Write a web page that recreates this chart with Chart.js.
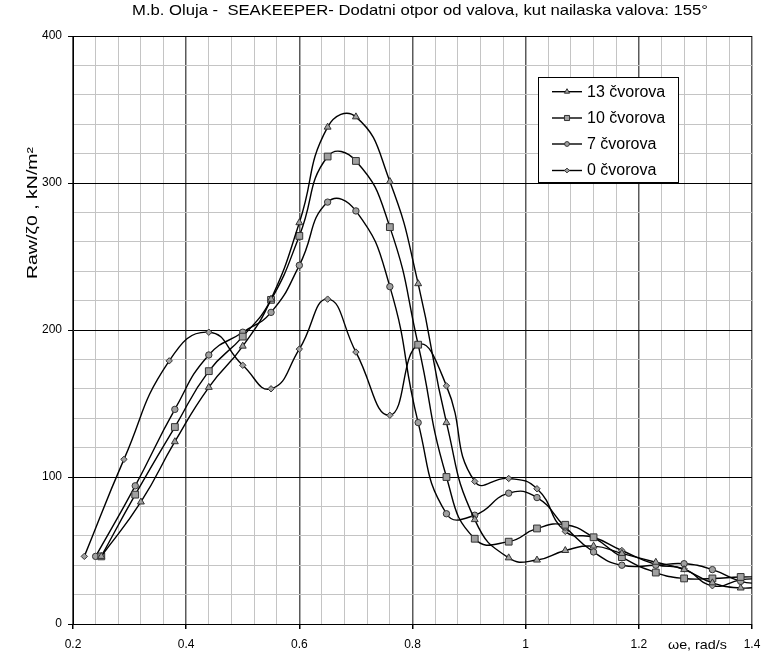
<!DOCTYPE html>
<html>
<head>
<meta charset="utf-8">
<script src="https://cdn.jsdelivr.net/npm/chart.js@4/dist/chart.umd.min.js"></script>
<style>
  html, body { margin: 0; padding: 0; background: #fff; }
  #wrap { width: 764px; height: 657px; }
</style>
</head>
<body>
<div id="wrap"><canvas id="seakeeperChart" width="764" height="657"></canvas></div>
<script>
// omega_e [rad/s] and Raw/zeta0 [kN/m2]
var omega13 = [0.25, 0.32, 0.38, 0.44, 0.50, 0.55, 0.60, 0.65, 0.70, 0.76, 0.81, 0.86, 0.91, 0.97, 1.02, 1.07, 1.12, 1.17, 1.23, 1.28, 1.33, 1.38, 1.42];
var raw13   = [46, 83, 124, 161, 189, 221, 273, 338, 345, 301, 231.5, 137, 71, 45, 43.5, 50, 53, 48, 42, 37, 28, 24.5, 25.5];

var omega10 = [0.25, 0.31, 0.38, 0.44, 0.50, 0.55, 0.60, 0.65, 0.70, 0.76, 0.81, 0.86, 0.91, 0.97, 1.02, 1.07, 1.12, 1.17, 1.23, 1.28, 1.33, 1.38, 1.42];
var raw10   = [46, 88, 134, 172, 195.5, 220.5, 264, 318, 315, 270, 190, 100, 58, 56, 65, 67.5, 59, 45.5, 35, 31, 31, 32, 32];

var omega7 = [0.24, 0.31, 0.38, 0.44, 0.50, 0.55, 0.60, 0.65, 0.70, 0.76, 0.81, 0.86, 0.91, 0.97, 1.02, 1.07, 1.12, 1.17, 1.23, 1.28, 1.33, 1.38, 1.42];
var raw7   = [46, 94, 146, 183, 198.5, 212, 244, 287, 281, 229.5, 137, 75, 74, 89, 86, 66, 49, 40, 40, 41, 37, 29, 27.5];

var omega0 = [0.22, 0.29, 0.37, 0.44, 0.50, 0.55, 0.60, 0.65, 0.70, 0.76, 0.81, 0.86, 0.91, 0.97, 1.02, 1.07, 1.12, 1.17, 1.23, 1.28, 1.33, 1.38, 1.42];
var raw0   = [46, 112, 179, 198.5, 176, 160, 187, 221, 185, 142, 190, 162, 97, 99, 92, 63, 59, 50, 40.5, 37.5, 26, 30, 31];

var seriesNames = ['13 čvorova', '10 čvorova', '7 čvorova', '0 čvorova'];
var xTickLabels = ['0.2', '0.4', '0.6', '0.8', '1', '1.2', '1.4'];
var yTickLabels = ['0', '100', '200', '300', '400'];

var FONT = 'Arial, "Liberation Sans", sans-serif';

function pts(xs, ys) {
    return xs.map(function(x, i) { return {x: x, y: ys[i]}; });
}

function series(label, xs, ys, style, radius) {
    return {
        label: label,
        data: pts(xs, ys),
        borderColor: '#000',
        borderWidth: 1.4,
        tension: 0.5,
        pointStyle: style,
        pointRadius: radius,
        pointBackgroundColor: '#a0a0a0',
        pointBorderColor: '#333',
        pointBorderWidth: 1,
        fill: false
    };
}

var datasets = [
    series(seriesNames[0], omega13, raw13, 'triangle', 4),
    series(seriesNames[1], omega10, raw10, 'rect', 4.8),
    series(seriesNames[2], omega7, raw7, 'circle', 3.2),
    series(seriesNames[3], omega0, raw0, 'rectRot', 3.2)
];

function isMajorX(v) { return Math.abs(v * 5 - Math.round(v * 5)) < 1e-6; }
function isMajorY(v) { return Math.abs(v % 100) < 1e-6; }

// text drawn with a horizontal stretch, like the Excel original
function stretchText(ctx, text, x, y, font, sx, align) {
    ctx.save();
    ctx.translate(x, y);
    ctx.scale(sx, 1);
    ctx.font = font;
    ctx.textAlign = align;
    ctx.textBaseline = 'middle';
    ctx.fillText(text, 0, 0);
    ctx.restore();
}

var textPlugin = {
    id: 'texts',
    afterDraw: function(chart) {
        var ctx = chart.ctx;
        ctx.save();
        ctx.fillStyle = '#000';
        // title
        stretchText(ctx, 'M.b. Oluja -  SEAKEEPER- Dodatni otpor od valova, kut nailaska valova: 155°', 420, 11, '15px ' + FONT, 1.11, 'center');
        // x axis title
        stretchText(ctx, 'ωe, rad/s', 668, 645, '13px ' + FONT, 1.1, 'left');
        // y axis title
        ctx.save();
        ctx.translate(33, 213);
        ctx.rotate(-Math.PI / 2);
        stretchText(ctx, 'Raw/ζ0 , kN/m²', 0, 0, '15px ' + FONT, 1.3, 'center');
        ctx.restore();

        // legend
        var lx = 538, ly = 77, lw = 140, lh = 105;
        ctx.fillStyle = '#fff';
        ctx.fillRect(lx, ly, lw, lh);
        ctx.strokeStyle = '#000';
        ctx.lineWidth = 1;
        ctx.strokeRect(lx + 0.5, ly + 0.5, lw, lh);
        var rowY = [91.7, 118, 144, 170.5];
        chart.data.datasets.forEach(function(ds, i) {
            var y = rowY[i];
            ctx.strokeStyle = '#000';
            ctx.lineWidth = 1.4;
            ctx.beginPath();
            ctx.moveTo(552, y);
            ctx.lineTo(582, y);
            ctx.stroke();
            ctx.fillStyle = ds.pointBackgroundColor;
            ctx.strokeStyle = ds.pointBorderColor;
            ctx.lineWidth = 1;
            Chart.helpers.drawPoint(ctx, {pointStyle: ds.pointStyle, radius: ds.pointRadius * 0.75, rotation: 0, borderWidth: 1}, 567, y);
            ctx.fillStyle = '#000';
            stretchText(ctx, ds.label, 587, y + 0.5, '16px ' + FONT, 1.0, 'left');
        });
        ctx.restore();
    }
};

var ctx = document.getElementById('seakeeperChart').getContext('2d');
var seakeeperChart = new Chart(ctx, {
    type: 'line',
    data: { datasets: datasets },
    options: {
        responsive: false,
        animation: false,
        events: [],
        layout: { padding: { top: 36, right: 12, left: 0, bottom: 0 } },
        plugins: {
            legend: { display: false },
            title: { display: false },
            tooltip: { enabled: false }
        },
        scales: {
            x: {
                type: 'linear',
                min: 0.2,
                max: 1.4,
                afterFit: function(scale) {
                    scale.height = 33;
                    scale.paddingLeft = 0;
                    scale.paddingRight = 0;
                },
                ticks: {
                    stepSize: 0.04,
                    autoSkip: false,
                    maxRotation: 0,
                    padding: 8,
                    color: '#000',
                    font: { family: FONT, size: 12 },
                    callback: function(v) {
                        if (!isMajorX(v)) return '';
                        return xTickLabels[Math.round((v - 0.2) * 5)];
                    }
                },
                grid: {
                    tickLength: 5,
                    color: function(c) { return isMajorX(c.tick.value) ? '#5a5a5a' : '#c4c4c4'; },
                    lineWidth: function(c) { return isMajorX(c.tick.value) ? 1.5 : 1; },
                    tickColor: function(c) { return isMajorX(c.tick.value) ? '#000' : 'rgba(0,0,0,0)'; }
                },
                border: { color: '#000', width: 1 }
            },
            y: {
                min: 0,
                max: 400,
                afterFit: function(scale) {
                    scale.width = 73;
                    scale.paddingTop = 0;
                    scale.paddingBottom = 0;
                },
                ticks: {
                    stepSize: 20,
                    autoSkip: false,
                    padding: 6,
                    color: '#000',
                    font: { family: FONT, size: 12 },
                    callback: function(v) {
                        if (!isMajorY(v)) return '';
                        return yTickLabels[Math.round(v / 100)];
                    }
                },
                grid: {
                    tickLength: 5,
                    color: function(c) { return isMajorY(c.tick.value) ? '#000' : '#c4c4c4'; },
                    lineWidth: 1,
                    tickColor: function(c) { return isMajorY(c.tick.value) ? '#000' : 'rgba(0,0,0,0)'; }
                },
                border: { color: '#000', width: 1 }
            }
        }
    },
    plugins: [textPlugin]
});
</script>
</body>
</html>
